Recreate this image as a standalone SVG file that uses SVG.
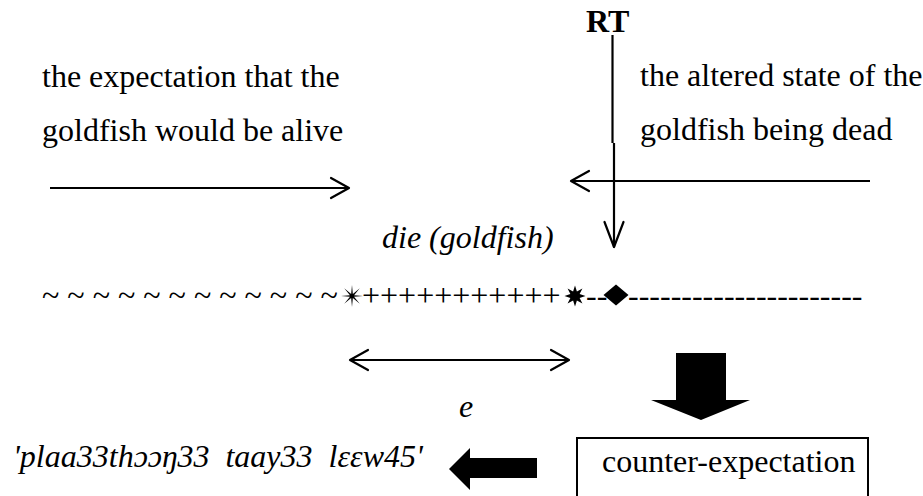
<svg xmlns="http://www.w3.org/2000/svg" width="923" height="496" viewBox="0 0 923 496">
<style>
.t{font-family:"Liberation Serif","Times New Roman",serif;font-size:32px;fill:#000}
.i{font-style:italic}
.b{font-weight:bold}
.ln{stroke:#000;stroke-width:2.2;fill:none}
.blk{fill:#000;stroke:none}
</style>
<defs>
<marker id="ah" markerUnits="userSpaceOnUse" markerWidth="24" markerHeight="24" viewBox="-20 -12 24 24" refX="0" refY="0" orient="auto-start-reverse">
<path d="M-18,-10 L0,0 L-18,10" fill="none" stroke="#000" stroke-width="2.2" stroke-linecap="round" stroke-linejoin="round"/>
</marker>
<marker id="ahTall" markerUnits="userSpaceOnUse" markerWidth="30" markerHeight="24" viewBox="-27 -12 30 24" refX="0" refY="0" orient="auto">
<path d="M-25,-9.5 L0,0 L-25,9.5" fill="none" stroke="#000" stroke-width="2.2" stroke-linecap="round" stroke-linejoin="round"/>
</marker>
<polygon id="star1" points="11,0 2.03,0.84 7.78,7.78 0.84,2.03 0,11 -0.84,2.03 -7.78,7.78 -2.03,0.84 -11,0 -2.03,-0.84 -7.78,-7.78 -0.84,-2.03 0,-11 0.84,-2.03 7.78,-7.78 2.03,-0.84"/>
<polygon id="star2" points="10.5,0 4.62,1.91 7.42,7.42 1.91,4.62 0,10.5 -1.91,4.62 -7.42,7.42 -4.62,1.91 -10.5,0 -4.62,-1.91 -7.42,-7.42 -1.91,-4.62 0,-10.5 1.91,-4.62 7.42,-7.42 4.62,-1.91"/>
</defs>
<rect width="923" height="496" fill="#fff"/>

<g id="rt-label">
<text class="t b" x="586" y="32" font-size="29">RT</text>
</g>

<g id="expectation-text">
<text class="t" x="42" y="87">the expectation that the</text>
<text class="t" x="42" y="141">goldfish would be alive</text>
</g>

<g id="altered-state-text">
<text class="t" x="640" y="86">the altered state of the</text>
<text class="t" x="640" y="140">goldfish being dead</text>
</g>

<g id="timeline">
<text class="t" x="42" y="306">~ ~ ~ ~ ~ ~ ~ ~ ~ ~ ~ ~</text>
<use href="#star1" x="352" y="296" class="blk"/>
<text class="t" x="362" y="306">+++++++++++</text>
<use href="#star2" x="575" y="296" class="blk"/>
<text class="t" x="586" y="306">--</text>
<polygon class="blk" points="603.5,295 616,284.5 628.5,295 616,305.5"/>
<text class="t" x="628" y="306">----------------------</text>
</g>

<g id="die-label">
<text class="t i" x="382" y="248">die (goldfish)</text>
</g>

<g id="e-label">
<text class="t i" x="459" y="417">e</text>
</g>

<g id="counter-expectation">
<rect x="577" y="438" width="291" height="70" fill="#fff" stroke="#000" stroke-width="2"/>
<text class="t" x="602" y="472">counter-expectation</text>
</g>

<g id="thai-gloss">
<text class="t i" x="13" y="467" xml:space="preserve">'plaa33thɔɔŋ33  taay33  lɛɛw45'</text>
</g>

<g id="connectors">
<line class="ln" x1="50" y1="188" x2="349" y2="188" marker-end="url(#ah)"/>
<line class="ln" x1="870" y1="181" x2="571" y2="181" marker-end="url(#ah)"/>
<line class="ln" x1="612.5" y1="35" x2="612.5" y2="143"/>
<line class="ln" x1="614" y1="143" x2="614" y2="247" marker-end="url(#ahTall)"/>
<line class="ln" x1="350" y1="360" x2="569" y2="360" marker-start="url(#ah)" marker-end="url(#ah)"/>
<polygon class="blk" points="676,353 726,353 726,400 750,400 701,420 651,400 676,400"/>
<polygon class="blk" points="537,458 537,478 470,478 470,490 449,469 470,448 470,458"/>
</g>
</svg>
